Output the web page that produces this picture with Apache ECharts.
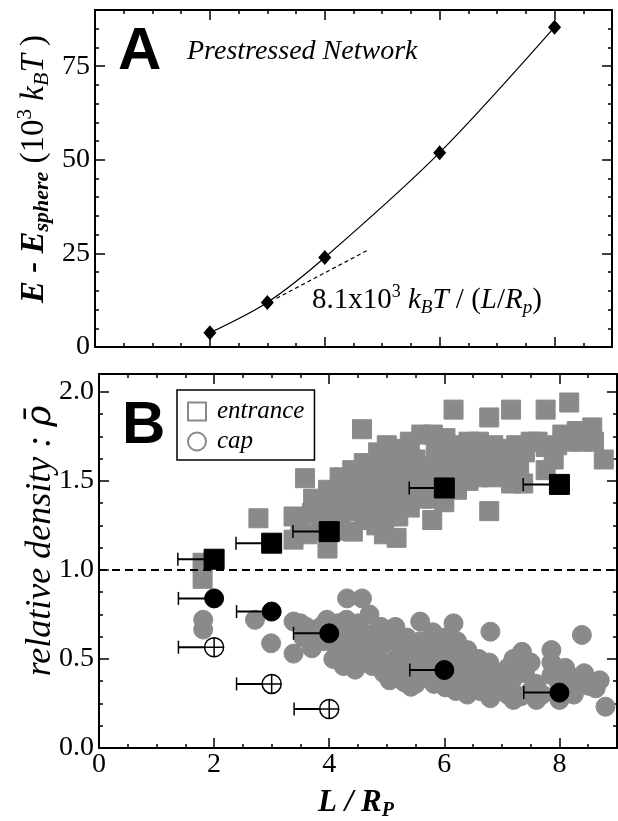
<!DOCTYPE html>
<html><head><meta charset="utf-8">
<script src="https://cdn.jsdelivr.net/npm/echarts@6/dist/echarts.min.js"></script>
<style>html,body{margin:0;padding:0;background:#fff}#c{width:618px;height:821px}</style>
</head><body><div id="c"></div>
<script>
// ---------- Panel A data ----------
const lengthsA = [2, 3, 4, 6, 8];
const energyA = [3.8, 11.9, 23.9, 51.9, 85.4];
const tangentX = [3.16, 4.74];
const tangentY = [13.0, 25.8];
const ticksAx = [0, 2, 4, 6, 8];
const ticksAy = [0, 25, 50, 75];

// ---------- Panel B data ----------
const ticksBx = [0, 2, 4, 6, 8];
const ticksBy = [0, 0.5, 1.0, 1.5, 2.0];
const referenceDensity = 1.0;
const meanX = [2, 3, 4, 6, 8];
const entranceMean = [1.06, 1.15, 1.215, 1.46, 1.48];
const entranceErrLeft = [1.37, 2.38, 3.37, 5.39, 7.37];
const capMean = [0.84, 0.766, 0.644, 0.438, 0.311];
const capErrLeft = [1.38, 2.39, 3.38, 5.40, 7.38];
const crossX = [2, 3, 4];
const crossMean = [0.566, 0.36, 0.219];
const crossErrLeft = [1.38, 2.39, 3.39];
const entrancePts = [
 [1.80,1.04],[1.80,0.95],[2.77,1.29],[3.38,1.30],[3.38,1.17],[3.58,1.515],
 [3.62,1.20],[3.70,1.32],[3.72,1.40],[3.97,1.12],[3.92,1.22],[3.95,1.33],[3.98,1.45],
 [4.15,1.30],[4.15,1.42],[4.18,1.52],[4.20,1.22],[4.41,1.215],[4.38,1.33],[4.40,1.45],[4.40,1.56],
 [4.57,1.79],[4.60,1.28],[4.62,1.40],[4.62,1.52],[4.60,1.60],
 [4.82,1.25],[4.82,1.36],[4.82,1.48],[4.80,1.58],[4.85,1.66],[4.95,1.20],
 [5.00,1.30],[5.02,1.42],[5.02,1.55],[5.00,1.70],
 [5.17,1.18],[5.20,1.30],[5.22,1.45],[5.20,1.58],[5.22,1.68],
 [5.40,1.35],[5.42,1.48],[5.40,1.60],[5.40,1.72],
 [5.60,1.40],[5.62,1.52],[5.60,1.76],
 [5.79,1.28],[5.80,1.40],[5.82,1.52],[5.85,1.65],[5.80,1.76],
 [6.00,1.38],[6.02,1.50],[6.05,1.62],[6.02,1.74],[6.16,1.90],
 [6.22,1.45],[6.22,1.58],[6.20,1.70],[6.42,1.50],[6.40,1.62],[6.42,1.72],
 [6.60,1.52],[6.62,1.64],[6.60,1.72],[6.78,1.856],[6.78,1.33],
 [6.82,1.52],[6.80,1.62],[6.85,1.70],[7.02,1.58],[7.00,1.68],
 [7.16,1.90],[7.16,1.485],[7.37,1.485],[7.22,1.62],[7.25,1.70],
 [7.76,1.90],[7.62,1.72],[7.76,1.69],[7.76,1.56],[7.96,1.70],
 [8.17,1.94],[8.18,1.72],[8.38,1.72],[8.45,1.76],[8.57,1.80],[8.77,1.62],
 [3.50,1.25],[3.85,1.28],[4.05,1.37],[4.28,1.40],[4.50,1.35],[4.50,1.50],[4.70,1.45],[4.70,1.32],
 [4.92,1.60],[5.10,1.50],[5.10,1.38],[5.30,1.52],[5.30,1.40],[5.50,1.45],[5.50,1.62],[5.70,1.58],
 [5.70,1.46],[5.90,1.45],[5.95,1.58],[6.10,1.55],[6.10,1.68],[6.30,1.55],[6.30,1.66],[6.50,1.60],
 [6.50,1.68],[6.70,1.58],[6.70,1.68],[6.90,1.60],[7.10,1.64],[7.10,1.55],[7.40,1.66],[7.50,1.72],
 [7.90,1.62],[8.05,1.76],[8.30,1.78],[8.60,1.72],[7.30,1.56]
];
const capPts = [
 [1.81,0.72],[1.81,0.665],[2.71,0.72],[2.99,0.588],[3.38,0.71],[3.38,0.53],
 [3.55,0.62],[3.60,0.68],[3.70,0.56],[3.72,0.64],
 [3.96,0.72],[3.90,0.60],[4.05,0.66],[4.07,0.50],[4.10,0.58],
 [4.31,0.84],[4.57,0.84],[4.30,0.72],[4.32,0.62],[4.30,0.52],[4.25,0.46],
 [4.50,0.70],[4.50,0.58],[4.52,0.50],[4.70,0.75],[4.72,0.64],[4.72,0.52],[4.75,0.46],
 [4.90,0.68],[4.92,0.58],[4.92,0.48],[4.95,0.42],
 [5.15,0.68],[5.12,0.60],[5.15,0.50],[5.18,0.40],
 [5.35,0.62],[5.35,0.52],[5.42,0.344],[5.38,0.43],
 [5.58,0.71],[5.58,0.60],[5.60,0.50],[5.62,0.40],
 [5.80,0.65],[5.80,0.55],[5.82,0.44],[5.82,0.36],
 [6.00,0.62],[6.00,0.52],[6.05,0.40],[6.02,0.34],
 [6.16,0.70],[6.22,0.60],[6.22,0.50],[6.25,0.38],
 [6.40,0.55],[6.42,0.45],[6.40,0.35],[6.60,0.50],[6.60,0.40],[6.62,0.32],
 [6.80,0.653],[6.78,0.48],[6.77,0.32],[6.82,0.40],[7.00,0.42],[7.00,0.32],
 [7.20,0.50],[7.18,0.38],[7.33,0.29],[7.35,0.54],[7.40,0.42],
 [7.86,0.55],[7.86,0.48],[7.86,0.41],[7.70,0.30],[7.60,0.36],
 [8.25,0.30],[8.20,0.40],[8.39,0.635],[8.43,0.42],[8.63,0.335],[8.80,0.232],[8.50,0.35],
 [3.50,0.70],[3.85,0.68],[4.15,0.70],[4.40,0.65],[4.60,0.62],[4.60,0.48],[4.80,0.58],[5.00,0.62],
 [5.05,0.45],[5.25,0.56],[5.25,0.45],[5.45,0.58],[5.50,0.48],[5.70,0.52],[5.70,0.42],[5.90,0.60],
 [5.95,0.46],[6.10,0.45],[6.10,0.56],[6.30,0.44],[6.30,0.52],[6.50,0.45],[6.50,0.38],[6.70,0.44],
 [6.90,0.36],[7.10,0.45],[7.10,0.30],[7.50,0.32],[7.50,0.48],[8.00,0.35],[8.10,0.45],[8.35,0.36],
 [8.70,0.38],[5.50,0.36],[5.30,0.37],[5.05,0.38],[4.45,0.44],[6.20,0.32],[6.40,0.30],[6.80,0.28],
 [7.20,0.27],[7.60,0.27],[8.00,0.27]
];

const FONT = 'Liberation Serif';
const GREY = '#8a8a8a';

function axes(dim, grid, min, max, step, majors, showLabels, fmt) {
  const pos = dim === 'x' ? ['bottom', 'top'] : ['left', 'right'];
  const base = {type: 'value', gridIndex: grid, min: min, max: max, interval: step,
    splitLine: {show: false}, axisPointer: {show: false}};
  const lbl = {show: true, customValues: majors, formatter: fmt, margin: dim === 'x' ? 3 : 5,
    fontFamily: FONT, fontSize: 28, color: '#000'};
  const out = [];
  pos.forEach(function (p, k) {
    out.push(Object.assign({}, base, {position: p,
      axisLine: {show: true, onZero: false, lineStyle: {color: '#000', width: 2}},
      axisTick: {show: true, inside: true, length: 4, lineStyle: {color: '#000', width: 1.5}},
      axisLabel: (k === 0 && showLabels) ? lbl : {show: false}}));
    out.push(Object.assign({}, base, {position: p,
      axisLine: {show: false, onZero: false},
      axisTick: {show: true, inside: true, length: 10, customValues: majors,
        lineStyle: {color: '#000', width: 1.5}},
      axisLabel: {show: false}}));
  });
  return [out[0], out[1], out[2], out[3]];
}

const xAxes = [].concat(
  axes('x', 0, 0, 9, 0.5, ticksAx, false),
  axes('x', 1, 0, 9, 0.5, ticksBx, true, function (v) { return String(v); })
);
const yAxes = [].concat(
  axes('y', 0, 0, 90, 5, ticksAy, true, function (v) { return String(v); }),
  axes('y', 1, 0, 2.1, 0.125, ticksBy, true, function (v) { return v.toFixed(1); })
);

function errorBars(xs, ys, lefts) {
  return {
    type: 'custom', xAxisIndex: 4, yAxisIndex: 4, z: 4, silent: true,
    encode: {x: 0, y: 1},
    data: xs.map(function (x, i) { return [x, ys[i], lefts[i]]; }),
    renderItem: function (params, api) {
      const a = api.coord([api.value(2), api.value(1)]);
      const b = api.coord([api.value(0), api.value(1)]);
      return {type: 'group', children: [
        {type: 'line', shape: {x1: a[0], y1: a[1], x2: b[0], y2: b[1]}, style: {stroke: '#000', lineWidth: 2}},
        {type: 'line', shape: {x1: a[0], y1: a[1] - 6.5, x2: a[0], y2: a[1] + 6.5}, style: {stroke: '#000', lineWidth: 1.5}}
      ]};
    }
  };
}

function R(o) { return Object.assign({fontFamily: FONT, fill: '#000', color: '#000'}, o); }
const solid = function (c) { return {color: c, opacity: 1, borderColor: c, borderWidth: 1}; };

const option = {
  animation: false,
  backgroundColor: '#fff',
  grid: [
    {left: 95, top: 10, width: 517, height: 337, outerBoundsMode: 'none'},
    {left: 99, top: 374, width: 518, height: 374, outerBoundsMode: 'none'}
  ],
  xAxis: xAxes,
  yAxis: yAxes,
  legend: {
    left: 177, top: 390, orient: 'vertical', selectedMode: false,
    data: [
      {name: 'entrance', icon: 'rect', itemStyle: {color: '#fff', borderColor: GREY, borderWidth: 2, opacity: 1}},
      {name: 'cap', icon: 'circle', itemStyle: {color: '#fff', borderColor: GREY, borderWidth: 2, opacity: 1}}
    ],
    itemWidth: 18, itemHeight: 18, itemGap: 5,
    padding: [9, 10, 6, 10], borderColor: '#000', borderWidth: 1.5,
    textStyle: {fontFamily: FONT, fontStyle: 'italic', fontSize: 25, color: '#000', padding: [0, 0, 0, 6]}
  },
  graphic: {elements: [
    {type: 'text', x: 118, y: 52, style: {text: 'A', fontFamily: 'Liberation Sans', fontWeight: 'bold', fontSize: 60,
      fill: '#000', align: 'left', textAlign: 'left', verticalAlign: 'middle', textVerticalAlign: 'middle'}},
    {type: 'text', x: 187, y: 52, style: {text: 'Prestressed Network', fontFamily: FONT, fontStyle: 'italic', fontSize: 28,
      fill: '#000', align: 'left', textAlign: 'left', verticalAlign: 'middle', textVerticalAlign: 'middle'}},
    {type: 'text', x: 312, y: 300, style: {
      text: '{n|8.1x10}{sup|3}{n| }{i|k}{sub|B}{i|T}{n| / (}{i|L}{n|/}{i|R}{sub|p}{n|)}',
      align: 'left', textAlign: 'left', verticalAlign: 'middle', textVerticalAlign: 'middle',
      rich: {
        n: R({fontSize: 29, lineHeight: 34}),
        i: R({fontSize: 29, fontStyle: 'italic', lineHeight: 34}),
        sub: R({fontSize: 19, fontStyle: 'italic', lineHeight: 19, verticalAlign: 'bottom'}),
        sup: R({fontSize: 18, lineHeight: 18, verticalAlign: 'top'})
      }}},
    {type: 'text', x: 34, y: 169, rotation: Math.PI / 2, style: {
      text: '{b|E - E}{bs|sphere}{r| (10}{sup|3}{i| k}{sub|B}{i|T}{r| )}',
      align: 'center', textAlign: 'center', verticalAlign: 'middle', textVerticalAlign: 'middle',
      rich: {
        b: R({fontSize: 33, fontStyle: 'italic', fontWeight: 'bold', lineHeight: 38}),
        bs: R({fontSize: 22, fontStyle: 'italic', fontWeight: 'bold', lineHeight: 22, verticalAlign: 'bottom'}),
        r: R({fontSize: 33, lineHeight: 38}),
        i: R({fontSize: 33, fontStyle: 'italic', lineHeight: 38}),
        sub: R({fontSize: 22, fontStyle: 'italic', lineHeight: 22, verticalAlign: 'bottom'}),
        sup: R({fontSize: 21, lineHeight: 21, verticalAlign: 'top'})
      }}},
    {type: 'text', x: 122, y: 426, style: {text: 'B', fontFamily: 'Liberation Sans', fontWeight: 'bold', fontSize: 60,
      fill: '#000', align: 'left', textAlign: 'left', verticalAlign: 'middle', textVerticalAlign: 'middle'}},
    {type: 'text', x: 41, y: 541, rotation: Math.PI / 2, style: {
      text: '{t|relative density : }{r|\u03C1\u0304}',
      align: 'center', textAlign: 'center', verticalAlign: 'middle', textVerticalAlign: 'middle',
      rich: {
        t: R({fontSize: 36, fontStyle: 'italic', lineHeight: 40}),
        r: R({fontSize: 36, fontStyle: 'italic', fontFamily: 'DejaVu Serif', lineHeight: 40})
      }}},
    {type: 'text', x: 356, y: 803, style: {
      text: '{b|L / R}{bs|P}',
      align: 'center', textAlign: 'center', verticalAlign: 'middle', textVerticalAlign: 'middle',
      rich: {
        b: R({fontSize: 31, fontStyle: 'italic', fontWeight: 'bold', lineHeight: 36}),
        bs: R({fontSize: 20, fontStyle: 'italic', fontWeight: 'bold', lineHeight: 20, verticalAlign: 'bottom'})
      }}}
  ]},
  series: [
    {type: 'line', name: 'energy', xAxisIndex: 0, yAxisIndex: 0, z: 3,
     data: lengthsA.map(function (x, i) { return [x, energyA[i]]; }),
     smooth: 0.3, symbol: 'diamond', symbolSize: [13, 15],
     itemStyle: {color: '#000', opacity: 1}, lineStyle: {color: '#000', width: 1.2}},
    {type: 'line', name: 'tangent', xAxisIndex: 0, yAxisIndex: 0, z: 2,
     data: tangentX.map(function (x, i) { return [x, tangentY[i]]; }),
     symbol: 'none', lineStyle: {color: '#000', width: 1.2, type: [4, 3]}},
    {type: 'scatter', name: 'entrance', xAxisIndex: 4, yAxisIndex: 4, z: 2,
     data: entrancePts, symbol: 'rect', symbolSize: 19, itemStyle: solid(GREY),
     markLine: {silent: true, symbol: 'none', label: {show: false}, z: 3,
       lineStyle: {color: '#000', width: 2, type: [8, 5], opacity: 1}, data: [{yAxis: referenceDensity}]}},
    {type: 'scatter', name: 'cap', xAxisIndex: 4, yAxisIndex: 4, z: 2,
     data: capPts, symbol: 'circle', symbolSize: 19, itemStyle: solid(GREY)},
    errorBars(meanX, entranceMean, entranceErrLeft),
    errorBars(meanX, capMean, capErrLeft),
    errorBars(crossX, crossMean, crossErrLeft),
    {type: 'scatter', name: 'entrance mean', xAxisIndex: 4, yAxisIndex: 4, z: 5,
     data: meanX.map(function (x, i) { return [x, entranceMean[i]]; }),
     symbol: 'rect', symbolSize: 20, itemStyle: solid('#000')},
    {type: 'scatter', name: 'cap mean', xAxisIndex: 4, yAxisIndex: 4, z: 5,
     data: meanX.map(function (x, i) { return [x, capMean[i]]; }),
     symbol: 'circle', symbolSize: 19, itemStyle: solid('#000')},
    {type: 'scatter', name: 'cap cross', xAxisIndex: 4, yAxisIndex: 4, z: 5,
     data: crossX.map(function (x, i) { return [x, crossMean[i]]; }),
     symbol: 'path://M0,-10A10,10 0 1,1 0,10A10,10 0 1,1 0,-10ZM-10,0L10,0M0,-10L0,10',
     symbolSize: 19, itemStyle: {color: '#fff', borderColor: '#000', borderWidth: 1.5, opacity: 1}}
  ]
};
const chart = echarts.init(document.getElementById('c'), null, {renderer: 'canvas'});
chart.setOption(option);
</script></body></html>
